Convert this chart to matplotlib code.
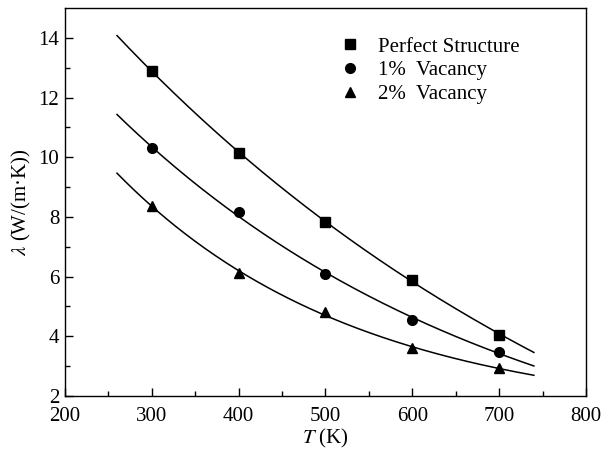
import numpy as np
import matplotlib
matplotlib.use("Agg")
import matplotlib.pyplot as plt

plt.rcParams['font.family'] = ['Liberation Serif', 'DejaVu Serif']
plt.rcParams['mathtext.fontset'] = 'stix'
plt.rcParams['font.size'] = 15

T = [300, 400, 500, 600, 700]
perfect = [12.9, 10.15, 7.82, 5.9, 4.05]
vac1 = [10.3, 8.15, 6.08, 4.55, 3.48]
vac2 = [8.38, 6.12, 4.8, 3.6, 2.92]
labels = ["Perfect Structure", "1%  Vacancy", "2%  Vacancy"]
markers = ["s", "o", "^"]
fit_range = [260, 740]


def expdec_fit(x, y):
    """Fit y = y0 + A*exp(-x/t) by grid search over t, linear LSQ for y0, A."""
    x = np.asarray(x, float)
    y = np.asarray(y, float)
    best = None
    for t in np.linspace(50, 5000, 5000):
        M = np.column_stack([np.ones_like(x), np.exp(-x / t)])
        sol, res, *_ = np.linalg.lstsq(M, y, rcond=None)
        r = np.sum((M @ sol - y) ** 2)
        if best is None or r < best[0]:
            best = (r, t, sol)
    _, t, (y0, A) = best
    return lambda xx: y0 + A * np.exp(-np.asarray(xx) / t)


fig = plt.figure(figsize=(6.01, 4.54), dpi=100)
ax = fig.add_axes([0.108, 0.128, 0.867, 0.854])

tt = np.linspace(fit_range[0], fit_range[1], 200)
for ys, m, lab in zip([perfect, vac1, vac2], markers, labels):
    f = expdec_fit(T, ys)
    ax.plot(tt, f(tt), color='black', lw=1.1)
    ax.plot(T, ys, linestyle='none', marker=m, color='black', markersize=7, label=lab)

ax.set_xlim(200, 800)
ax.set_ylim(2, 15)
ax.set_xticks([200, 300, 400, 500, 600, 700, 800])
ax.set_yticks([2, 4, 6, 8, 10, 12, 14])
ax.set_xticks([250, 350, 450, 550, 650, 750], minor=True)
ax.set_yticks([3, 5, 7, 9, 11, 13], minor=True)
ax.tick_params(which='both', direction='in', top=False, right=False)
ax.tick_params(which='major', length=6, width=1, labelsize=15)
ax.tick_params(axis='x', which='major', pad=8)
ax.tick_params(axis='y', which='major', pad=4)
ax.tick_params(which='minor', length=3.5, width=1)
for s in ax.spines.values():
    s.set_linewidth(1.0)

ax.set_xlabel(r"$T$ (K)", fontsize=15, labelpad=1)
ax.set_ylabel(r"$\lambda$ (W/(m·K))", fontsize=15, labelpad=4)

ax.legend(loc='upper left', bbox_to_anchor=(0.512, 0.947), frameon=False,
          handlelength=1.0, handletextpad=0.8, labelspacing=0.2, fontsize=15,
          borderaxespad=0)

fig.savefig("out.png", dpi=100)
